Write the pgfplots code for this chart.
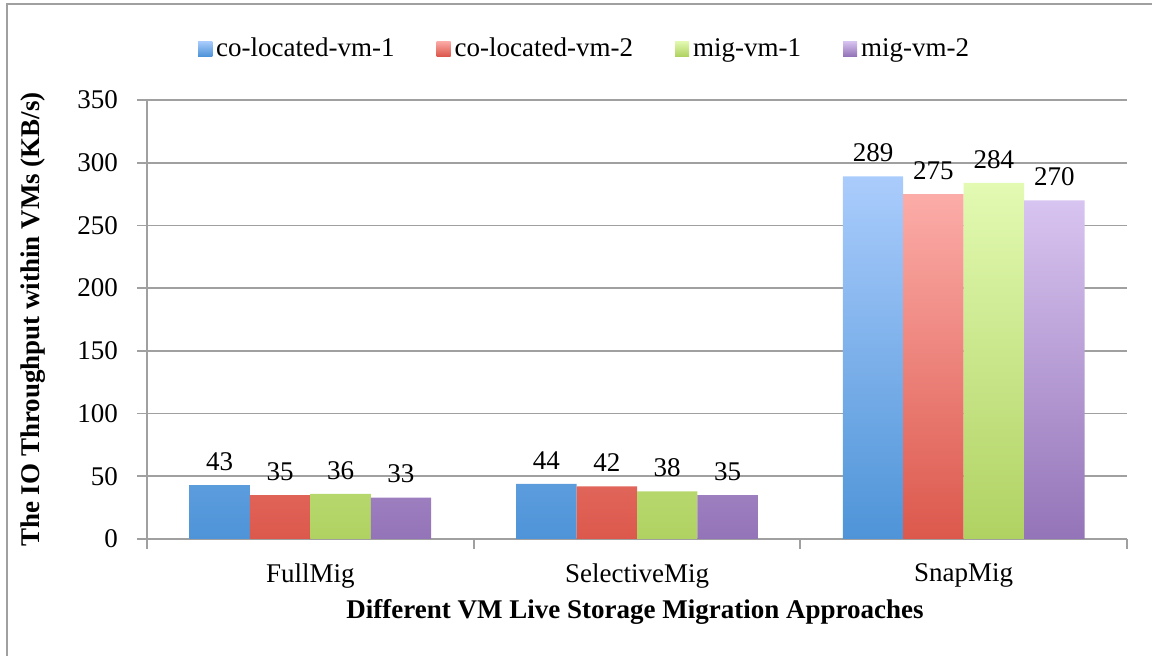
\documentclass[border=0pt]{standalone}
\usepackage{pgfplots}
\pgfplotsset{compat=1.18}
\usepackage{fontspec}
\setmainfont{Liberation Serif}
\definecolor{gridgray}{RGB}{160,160,160}
\definecolor{bTop}{RGB}{170,204,252}
\definecolor{bBot}{RGB}{78,148,216}
\definecolor{rTop}{RGB}{252,172,168}
\definecolor{rBot}{RGB}{220,88,76}
\definecolor{gTop}{RGB}{226,250,178}
\definecolor{gBot}{RGB}{176,210,98}
\definecolor{pTop}{RGB}{216,196,240}
\definecolor{pBot}{RGB}{148,116,184}
\newcommand{\chartfont}{\fontsize{13.5}{16}\selectfont}
\begin{document}
\begin{tikzpicture}
\useasboundingbox (0,0) rectangle (576pt,328pt);
\draw[gridgray, line width=1pt] (3.5pt,-20pt) rectangle (620pt,326pt);
\begin{axis}[
  at={(73.5pt,58.5pt)}, anchor=south west,
  scale only axis, width=490pt, height=219.5pt,
  ybar=0pt, bar width=0.185,
  xmin=-0.5, xmax=2.5, ymin=0, ymax=350,
  ytick={0,50,...,350},
  xtick={0,1,2},
  xticklabels={FullMig,SelectiveMig,SnapMig},
  minor xtick={-0.5,0.5,1.5,2.5},
  axis lines*=left,
  axis line style={gridgray, line width=0.9pt},
  tick align=outside,
  major tick length=5pt, minor tick length=5pt,
  major x tick style={draw=none},
  minor x tick style={gridgray, line width=0.9pt},
  major y tick style={gridgray, line width=0.9pt},
  ymajorgrids,
  grid style={gridgray, line width=0.9pt},
  /pgf/number format/assume math mode=true,
  ticklabel style={font=\chartfont},
  yticklabel style={xshift=-6pt},
  xticklabel style={yshift=-4pt},
  xlabel={Different VM Live Storage Migration Approaches},
  ylabel={The IO Throughput within VMs (KB/s)},
  every axis x label/.style={at={(axis description cs:0.498,-0.166)}, anchor=center, font=\chartfont\bfseries},
  every axis y label/.style={at={(axis description cs:-0.1163,0.5)}, rotate=90, anchor=center, font=\chartfont\bfseries},
  nodes near coords,
  nodes near coords style={font=\chartfont, text=black, inner sep=3pt, yshift=4pt},
  legend columns=4,
  legend style={draw=none, fill=none, font=\chartfont,
    at={(axis description cs:0.4476,1.116)}, anchor=center,
    /tikz/every even column/.append style={column sep=19pt}},
  legend image code/.code={\path[#1, draw=none] (0pt,-3.5pt) rectangle (7pt,4pt);},
]
\addplot[draw=none, top color=bTop, bottom color=bBot] coordinates {(0,43) (1,44) (2,289)};
\addplot[draw=none, top color=rTop, bottom color=rBot] coordinates {(0,35) (1,42) (2,275)};
\addplot[draw=none, top color=gTop, bottom color=gBot] coordinates {(0,36) (1,38) (2,284)};
\addplot[draw=none, top color=pTop, bottom color=pBot] coordinates {(0,33) (1,35) (2,270)};
\legend{co-located-vm-1,co-located-vm-2,mig-vm-1,mig-vm-2}
\end{axis}
\end{tikzpicture}
\end{document}
